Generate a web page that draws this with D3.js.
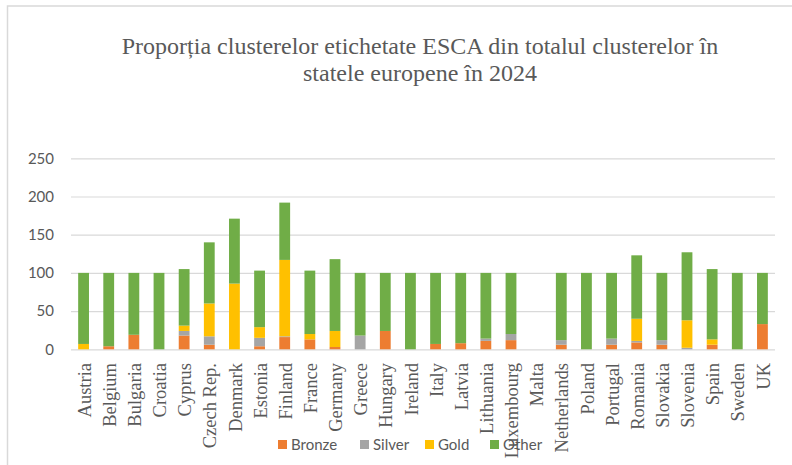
<!DOCTYPE html>
<html>
<head>
<meta charset="utf-8">
<script src="https://cdn.jsdelivr.net/npm/d3@7"></script>
<style>
  body { margin: 0; background: #fff; }
  svg { display: block; }
</style>
</head>
<body>
<svg width="792" height="465"></svg>
<script>
// data
const countries = ["Austria", "Belgium", "Bulgaria", "Croatia", "Cyprus", "Czech Rep.", "Denmark",
    "Estonia", "Finland", "France", "Germany", "Greece", "Hungary", "Ireland", "Italy", "Latvia",
    "Lithuania", "Luxembourg", "Malta", "Netherlands", "Poland", "Portugal", "Romania", "Slovakia",
    "Slovenia", "Spain", "Sweden", "UK"]
const bronze = [0, 4, 19, 0, 18, 6, 0, 4, 16, 13, 3, 0, 24, 0, 7, 8, 11, 12, 0, 6, 0, 6, 9, 6, 0, 6, 0, 33]
const silver = [0, 0, 0, 0, 6, 11, 0, 11, 1, 0, 0, 18, 0, 0, 0, 0, 3, 8, 0, 6, 0, 8, 2, 6, 2, 0, 0, 0]
const gold   = [7, 0, 0, 0, 7, 43, 86, 14, 100, 7, 21, 0, 0, 0, 0, 0, 0, 0, 0, 0, 0, 0, 29, 0, 36, 7, 0, 0]
const other  = [93, 96, 81, 100, 74, 80, 85, 74, 75, 83, 94, 82, 76, 100, 93, 92, 86, 80, 0, 88, 100, 86, 83, 88, 89, 92, 100, 67]
const seriesNames = ["Bronze", "Silver", "Gold", "Other"]
const seriesColors = ["#ED7D31", "#A5A5A5", "#FFC000", "#70AD47"]
const yTicks = [0, 50, 100, 150, 200, 250]
const titleLines = ["Proporția clusterelor etichetate ESCA din totalul clusterelor în", "statele europene în 2024"]

const rows = countries.map((c, i) => ({
    country: c, Bronze: bronze[i], Silver: silver[i], Gold: gold[i], Other: other[i]
}))

const svg = d3.select("svg")
const grey = "#595959"

// chart frame
svg.append("rect")
    .attr("x", 7.5)
    .attr("y", 6)
    .attr("width", 800)
    .attr("height", 480)
    .attr("fill", "none")
    .attr("stroke", "#d9d9d9")
    .attr("stroke-width", 1.5)

// title
svg.append("text")
    .attr("text-anchor", "middle")
    .attr("font-family", "Liberation Serif")
    .attr("font-size", 24)
    .attr("fill", grey)
    .selectAll("tspan")
    .data(titleLines)
    .join("tspan")
    .attr("x", 420)
    .attr("y", (d, i) => 53.5 + i * 27.5)
    .text(d => d)

const scaleX = d3.scaleBand()
    .domain(countries)
    .range([71, 775])
    .paddingInner(0.57)
    .paddingOuter(0.285)

const scaleY = d3.scaleLinear()
    .domain([0, 250])
    .range([349.3, 158.3])

// grid + y labels
const axisY = d3.axisLeft(scaleY)
    .tickValues(yTicks)
    .tickSizeInner(-704)
    .tickSizeOuter(0)
    .tickPadding(17)

const axisYGroup = svg.append("g")
    .attr("transform", "translate(71, 0)")
    .call(axisY)

axisYGroup.select(".domain").remove()
axisYGroup.selectAll(".tick line")
    .attr("stroke", "#d9d9d9")
    .attr("stroke-width", 1.2)
axisYGroup.selectAll(".tick text")
    .attr("font-family", "Lato")
    .attr("font-size", 15)
    .attr("fill", grey)

// stacked bars
const stacked = d3.stack().keys(seriesNames)(rows)

svg.append("g")
    .selectAll("g")
    .data(stacked)
    .join("g")
    .attr("fill", (d, i) => seriesColors[i])
    .selectAll("rect")
    .data(d => d.filter(s => s[1] - s[0] > 0))
    .join("rect")
    .attr("x", d => scaleX(d.data.country))
    .attr("width", scaleX.bandwidth())
    .attr("y", d => scaleY(d[1]))
    .attr("height", d => scaleY(d[0]) - scaleY(d[1]))

// x labels, rotated
svg.append("g")
    .selectAll("text")
    .data(countries)
    .join("text")
    .attr("transform", d => {
        const x = scaleX(d) + scaleX.bandwidth() / 2 + 1
        return `translate(${x}, 363) rotate(-90)`
    })
    .attr("dy", "0.33em")
    .attr("text-anchor", "end")
    .attr("font-family", "Liberation Serif")
    .attr("font-size", 18.5)
    .attr("fill", grey)
    .text(d => d)

// legend
const legendX = [278, 360, 425, 490]
const legend = svg.append("g")
    .selectAll("g")
    .data(seriesNames)
    .join("g")
    .attr("transform", (d, i) => `translate(${legendX[i]}, 440)`)

legend.append("rect")
    .attr("width", 9)
    .attr("height", 9)
    .attr("fill", (d, i) => seriesColors[i])

legend.append("text")
    .attr("x", 13)
    .attr("y", 10)
    .attr("font-family", "Lato")
    .attr("font-size", 15)
    .attr("fill", grey)
    .text(d => d)
</script>
</body>
</html>
